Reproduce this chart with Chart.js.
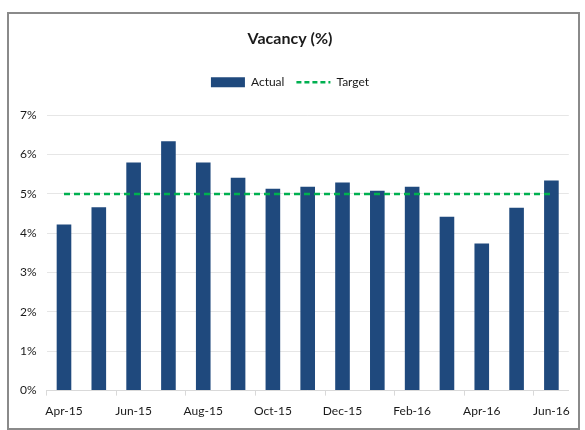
<!DOCTYPE html>
<html>
<head>
<meta charset="utf-8">
<script src="https://cdn.jsdelivr.net/npm/chart.js@4/dist/chart.umd.min.js"></script>
<style>
  body { margin: 0; background: #fff; }
  #frame {
    position: absolute; left: 7px; top: 12px;
    width: 569px; height: 414px;
    border: 2px solid #8a8a8a;
  }
</style>
</head>
<body>
<div id="frame"><canvas id="vacancyChart" width="569" height="414"></canvas></div>
<script>
const months = ['Apr-15', 'May-15', 'Jun-15', 'Jul-15', 'Aug-15', 'Sep-15', 'Oct-15', 'Nov-15',
  'Dec-15', 'Jan-16', 'Feb-16', 'Mar-16', 'Apr-16', 'May-16', 'Jun-16'];
const actual = [4.22, 4.66, 5.80, 6.34, 5.80, 5.41, 5.13, 5.18, 5.29, 5.08, 5.18, 4.42, 3.74, 4.65, 5.34];
const target = [5, 5, 5, 5, 5, 5, 5, 5, 5, 5, 5, 5, 5, 5, 5];
const yTicks = [0, 1, 2, 3, 4, 5, 6, 7];

const font = { family: 'Lato', size: 12 };
const textColor = '#1a1a1a';

// extra room under the legend, like the Excel original
const legendGap = {
  id: 'legendGap',
  beforeInit(chart) {
    const fit = chart.legend.fit;
    chart.legend.fit = function () {
      fit.bind(chart.legend)();
      this.height += 17;
    };
  }
};

const ctx = document.getElementById('vacancyChart').getContext('2d');
new Chart(ctx, {
  type: 'bar',
  data: {
    labels: months,
    datasets: [
      {
        type: 'line',
        label: 'Target',
        data: target,
        borderColor: '#00b050',
        borderWidth: 2.5,
        borderDash: [6, 4],
        pointRadius: 0,
        pointStyle: 'line',
        fill: false,
        order: 0
      },
      {
        label: 'Actual',
        data: actual,
        backgroundColor: '#1f497d',
        barPercentage: 0.42,
        categoryPercentage: 1,
        pointStyle: 'rect',
        order: 1
      }
    ]
  },
  plugins: [legendGap],
  options: {
    responsive: false,
    animation: false,
    layout: { padding: { left: 1, right: 8, top: 15, bottom: 2 } },
    plugins: {
      title: {
        display: true,
        text: 'Vacancy (%)',
        color: textColor,
        font: { family: 'Lato', size: 16, weight: 'bold' },
        padding: { top: 0, bottom: 16 }
      },
      legend: {
        reverse: true,
        labels: {
          color: textColor,
          font: { family: 'Lato', size: 12 },
          usePointStyle: true,
          pointStyleWidth: 34,
          boxWidth: 34,
          boxHeight: 10,
          padding: 12,
          generateLabels(chart) {
            const items = Chart.defaults.plugins.legend.labels.generateLabels(chart);
            items.forEach((item) => {
              const ds = chart.data.datasets[item.datasetIndex];
              if (ds.type === 'line') {
                item.lineDash = [5, 3];
                item.lineWidth = 2.5;
              }
            });
            return items;
          }
        }
      },
      tooltip: { enabled: false }
    },
    scales: {
      x: {
        grid: {
          drawOnChartArea: false,
          tickLength: 5,
          color: (c) => (c.index % 2 === 0 ? '#d9d9d9' : 'rgba(0,0,0,0)')
        },
        border: { color: '#d9d9d9' },
        ticks: {
          color: textColor,
          font: font,
          autoSkip: false,
          maxRotation: 0,
          padding: 8,
          callback: function (value, index) {
            return index % 2 === 0 ? this.getLabelForValue(value) : '';
          }
        }
      },
      y: {
        min: yTicks[0],
        max: yTicks[yTicks.length - 1],
        afterBuildTicks: (axis) => { axis.ticks = yTicks.map((v) => ({ value: v })); },
        grid: { color: '#e6e6e6', drawTicks: false },
        border: { display: false },
        ticks: {
          color: textColor,
          font: font,
          padding: 10,
          callback: (v) => v + '%'
        }
      }
    }
  }
});
</script>
</body>
</html>
